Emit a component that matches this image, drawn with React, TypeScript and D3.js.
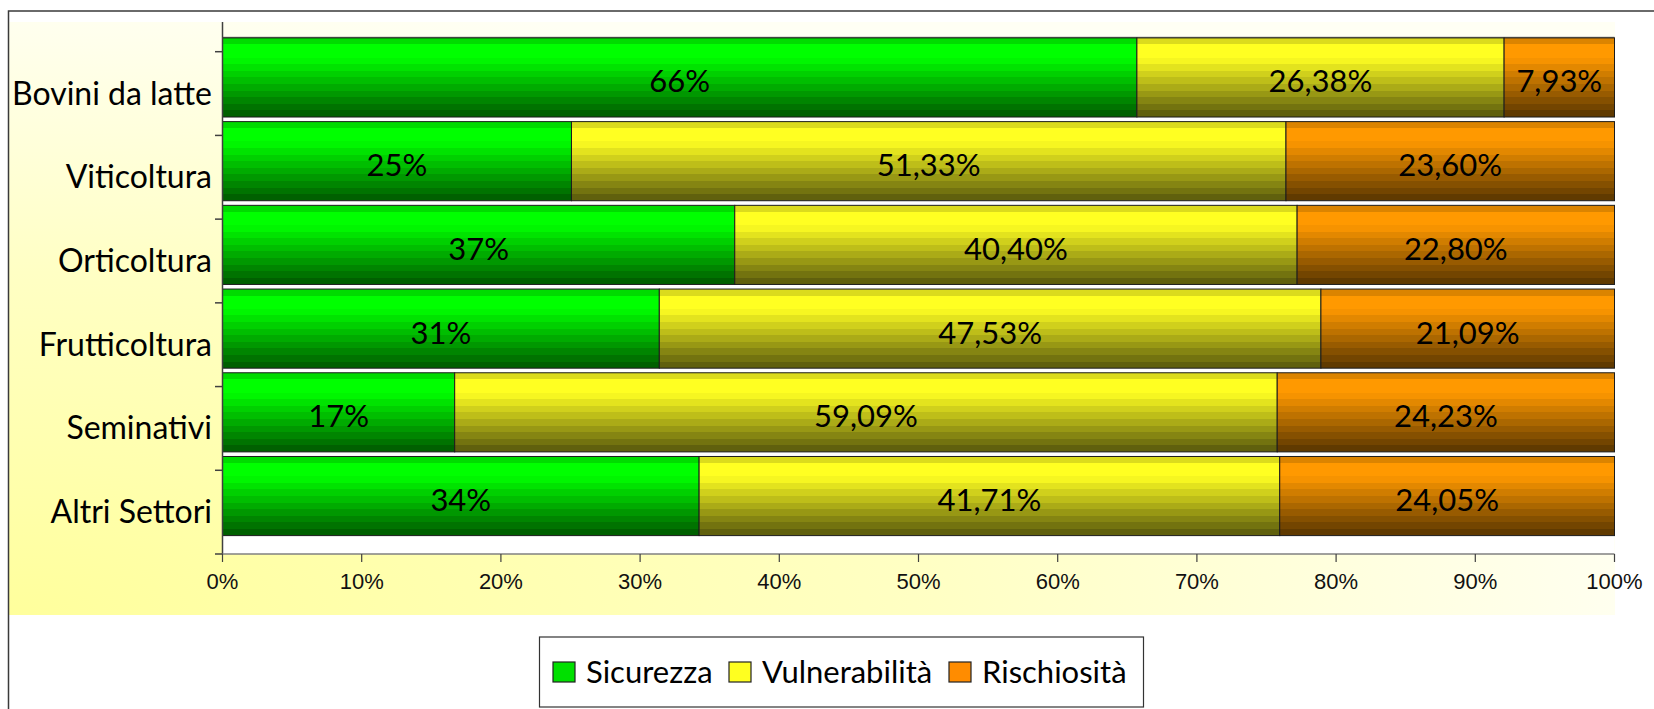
import React from 'react';
import * as d3 from 'd3';

const categories = ['Bovini da latte', 'Viticoltura', 'Orticoltura', 'Frutticoltura', 'Seminativi', 'Altri Settori'];
const sicurezza = [65.69, 25.07, 36.8, 31.38, 16.68, 34.24];
const vulnerabilita = [26.38, 51.33, 40.4, 47.53, 59.09, 41.71];
const rischiosita = [7.93, 23.6, 22.8, 21.09, 24.23, 24.05];
const seriesNames = ['Sicurezza', 'Vulnerabilità', 'Rischiosità'];
const seriesColors = ['#00ff00', '#ffff22', '#ff9900'];
const legendColors = ['#00e000', '#ffff20', '#ff8c00'];
const xTicks = [0, 10, 20, 30, 40, 50, 60, 70, 80, 90, 100];

const W = 1654;
const H = 709;
const labelFont = '"Gill Sans", "Gill Sans MT", Lato, sans-serif';
const axisFont = 'Arial, "Liberation Sans", sans-serif';

const it = d3.formatLocale({ decimal: ',', thousands: '.', grouping: [3], currency: ['€', ''] });
const fmtInt = it.format('.0f');
const fmtDec = it.format('.2f');

// rows for the stack
const table = categories.map((c, i) => ({
  cat: c,
  Sicurezza: sicurezza[i],
  Vulnerabilità: vulnerabilita[i],
  Rischiosità: rischiosita[i],
}));

// stepped vertical shading like the old office charts
const brightness = (t: number) => {
  if (t < 0.09) return 0.86;
  if (t < 0.25) return 1;
  return 1 - ((t - 0.25) / 0.75) * 0.66;
};

const StripeGradient: React.FC<{ id: string, color: string }> = ({ id, color }) => {
  const steps = 12;
  const base = d3.rgb(color);
  const stops: JSX.Element[] = [];
  for (let k = 0; k < steps; k++) {
    const t = (k + 0.5) / steps;
    const f = brightness(t);
    const c = d3.rgb(base.r * f, base.g * f, base.b * f).formatHex();
    stops.push(<stop key={k + 'a'} offset={`${(k / steps) * 100}%`} stopColor={c} />);
    stops.push(<stop key={k + 'b'} offset={`${((k + 1) / steps) * 100}%`} stopColor={c} />);
  }
  return (
    <linearGradient id={id} x1="0" y1="0" x2="0" y2="1">
      {stops}
    </linearGradient>
  );
};

const App: React.FC = () => {
  const left = 222.5;
  const right = 1614.5;
  const axisTop = 22;
  const wallTop = 37.5;
  const axisBottom = 554;
  const depth = 13.8;

  const x = d3.scaleLinear().domain([0, 100]).range([left, right]);
  const y = d3.scaleBand<string>().domain(categories).range([51.7, axisBottom]).padding(0);
  const barH = y.bandwidth() - 4.6;

  const stacked = d3.stack<any>().keys(seriesNames)(table);
  const bandEdges = categories.map(c => y(c) as number).concat([axisBottom]);

  return (
    <svg width={W} height={H} style={{ position: 'absolute', left: 0, top: 0, display: 'block' }}>
      <defs>
        {seriesColors.map((c, i) => <StripeGradient key={i} id={`sg${i}`} color={c} />)}
        <radialGradient id="bg" cx="0" cy="1" r="1.05" gradientUnits="objectBoundingBox">
          <stop offset="0%" stopColor="#ffff9c" />
          <stop offset="55%" stopColor="#ffffc4" />
          <stop offset="100%" stopColor="#fffff4" />
        </radialGradient>
      </defs>

      <rect x={0} y={0} width={W} height={H} fill="#ffffff" />
      <rect x={9} y={axisTop} width={right + 0.5 - 9} height={615 - axisTop} fill="url(#bg)" />
      <rect x={8.5} y={11} width={W + 20} height={H + 20} fill="none" stroke="#3a3a3a" strokeWidth={1.5} />

      {/* back wall */}
      <rect x={left} y={wallTop} width={right - left} height={axisBottom - wallTop} fill="#ffffff" />
      <line x1={left} x2={right} y1={wallTop} y2={wallTop} stroke="#808080" strokeWidth={1.5} />

      {/* bars */}
      {stacked.map((s, si) => (
        <g key={s.key}>
          {s.map((d, i) => (
            <rect
              key={i}
              x={x(d[0])}
              y={(y(categories[i]) as number) - depth}
              width={x(d[1]) - x(d[0])}
              height={barH}
              fill={`url(#sg${si})`}
              stroke="#1c1c1c"
              strokeWidth={1}
            />
          ))}
        </g>
      ))}

      {/* data labels */}
      {stacked.map((s, si) => (
        <g key={s.key + 'l'} fontFamily={labelFont} fontSize={31} textAnchor="middle" fill="#000">
          {s.map((d, i) => {
            const v = d[1] - d[0];
            const txt = (si === 0 ? fmtInt(v) : fmtDec(v)) + '%';
            return (
              <text key={i} x={(x(d[0]) + x(d[1])) / 2} y={(y(categories[i]) as number) - depth + barH / 2 + 15}>
                {txt}
              </text>
            );
          })}
        </g>
      ))}

      {/* y axis */}
      <line x1={left} x2={left} y1={axisTop} y2={axisBottom} stroke="#404040" strokeWidth={1.5} />
      {bandEdges.map((e, i) => (
        <line key={i} x1={left - 7.5} x2={left} y1={e} y2={e} stroke="#404040" strokeWidth={1.5} />
      ))}
      {categories.map(c => (
        <text
          key={c}
          x={212}
          y={(y(c) as number) + y.bandwidth() / 2 + 11}
          textAnchor="end"
          fontFamily={labelFont}
          fontSize={32}
          fill="#000"
        >
          {c}
        </text>
      ))}

      {/* x axis */}
      <line x1={left} x2={right} y1={axisBottom} y2={axisBottom} stroke="#808080" strokeWidth={1.5} />
      {xTicks.map(t => (
        <g key={t}>
          <line x1={x(t)} x2={x(t)} y1={axisBottom} y2={axisBottom + 8} stroke="#404040" strokeWidth={1.2} />
          <text x={x(t)} y={589} textAnchor="middle" fontFamily={axisFont} fontSize={22} fill="#111">
            {t}%
          </text>
        </g>
      ))}

      {/* legend */}
      <rect x={539.5} y={637} width={604} height={70} fill="#ffffff" stroke="#333" strokeWidth={1.2} />
      {seriesNames.map((n, i) => {
        const lx = [553, 729, 949][i];
        return (
          <g key={n}>
            <rect x={lx} y={662} width={22} height={20} fill={legendColors[i]} stroke="#222" strokeWidth={1.2} />
            <text x={lx + 33} y={683} fontFamily={labelFont} fontSize={31} fill="#000">
              {n}
            </text>
          </g>
        );
      })}
    </svg>
  );
};

export default App;
